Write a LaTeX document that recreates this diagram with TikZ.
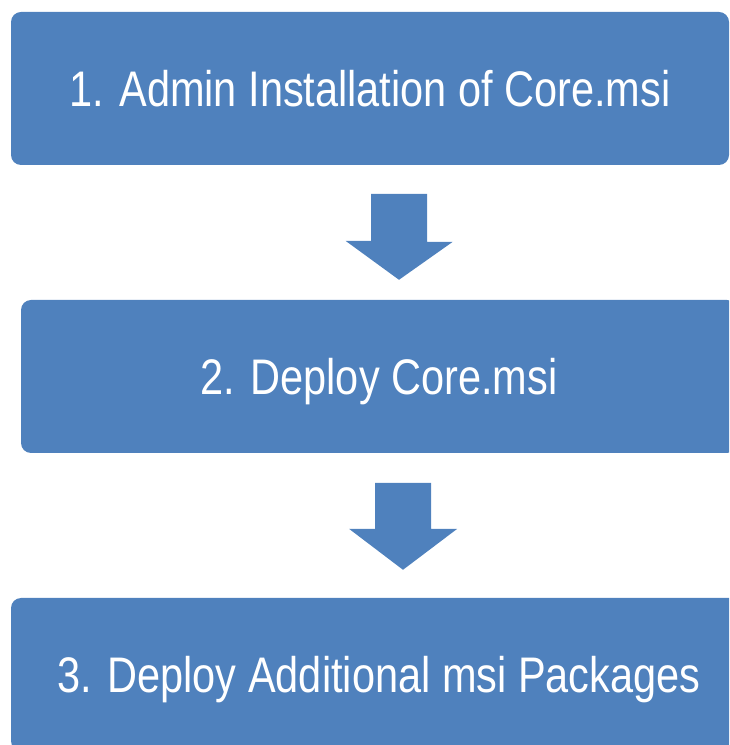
\documentclass[tikz,border=0pt]{standalone}
\usepackage{fontspec}
\newfontfamily\handfont[FakeStretch=0.83]{Liberation Sans}
\definecolor{stepblue}{HTML}{4F81BD}
\tikzset{
  stepbox/.style={fill=stepblue, rounded corners=10pt, minimum height=153pt,
    text=white, font=\handfont\fontsize{50}{50}\selectfont,
    text height=37pt, text depth=0pt, inner sep=0pt},
  blockarrow/.style={fill=stepblue}
}
\begin{document}
\begin{tikzpicture}[x=1pt,y=1pt]
\useasboundingbox (0,0) rectangle (729,745);
\clip (0,0) rectangle (729,745);

\node[stepbox, minimum width=718pt] (b1) at (370,656.5) {1. Admin Installation of Core.msi};
\node[stepbox, minimum width=716pt] (b2) at (379,368.5) {2. Deploy Core.msi};
\node[stepbox, minimum width=736pt] (b3) at (379,70.5) {3. Deploy Additional msi Packages};

% first arrow
\coordinate (a1) at (399,551);
\fill[blockarrow] (a1) ++(-28,0) -- ++(56,0) -- ++(0,-48) -- ++(25.5,0)
  -- ([yshift=20pt]b2.north -| a1) -- ++(-53.5,39) -- ++(25.5,0) -- cycle;

% second arrow
\coordinate (a2) at (403,262);
\fill[blockarrow] (a2) ++(-28,0) -- ++(56,0) -- ++(0,-46) -- ++(26,0)
  -- ([yshift=28pt]b3.north -| a2) -- ++(-54,41) -- ++(26,0) -- cycle;
\end{tikzpicture}
\end{document}
